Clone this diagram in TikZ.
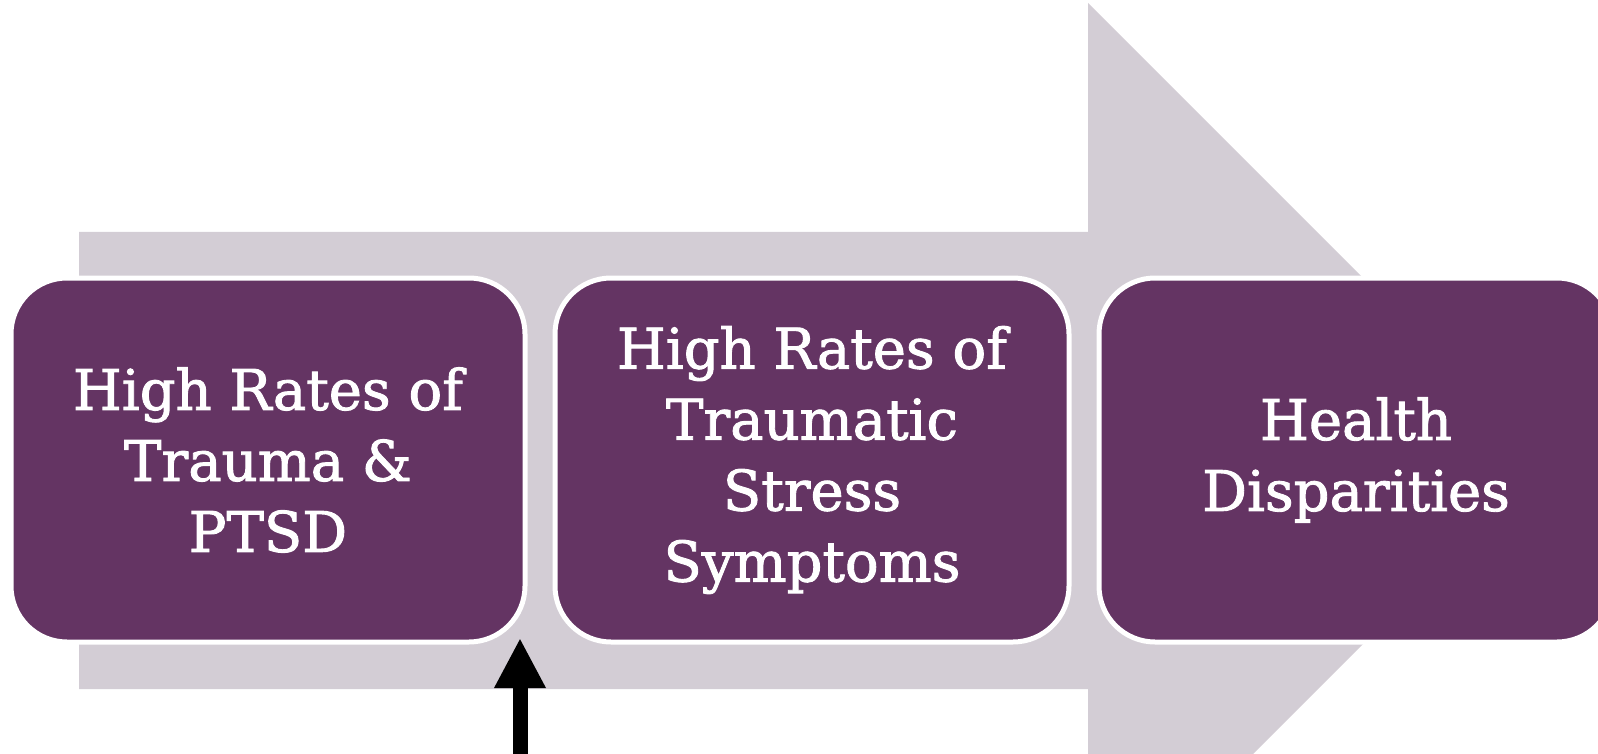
\documentclass[tikz,border=0pt]{standalone}
\usepackage{fontspec}
\setmainfont{DejaVu Serif}[RawFeature={embolden=1.6}]
\usepackage{xcolor}
\usepackage{tikz}
\usetikzlibrary{arrows.meta}

\definecolor{plum}{RGB}{100,52,99}
\definecolor{shaftgrey}{RGB}{211,205,213}

\begin{document}
\begin{tikzpicture}[x=1pt, y=-1pt,
    stage/.style={draw=white, line width=5pt, fill=plum, rounded corners=56pt,
        minimum width=514pt, minimum height=364pt, text=white, align=center,
        font=\fontsize{56}{71}\selectfont}]
    \useasboundingbox (0,0) rectangle (1598,754);
    % big grey arrow behind the boxes
    \fill[shaftgrey] (79,232) -- (1088,232) -- (1088,3) -- (1546,461)
        -- (1088,919) -- (1088,689) -- (79,689) -- cycle;
    \foreach \n/\x/\t in {trauma/268/{High Rates of\\Trauma \&\\PTSD},
        stress/812/{High Rates of\\Traumatic\\Stress\\Symptoms},
        health/1356/{Health\\Disparities}} {
        \node[stage] (\n) at (\x,460) {\t};
    }
    \coordinate (cause) at (520,638);
    \coordinate (base) at (520,754);
    \draw[-{Triangle[width=48pt, length=50pt]}, line width=15pt] (base) -- (cause);
\end{tikzpicture}
\end{document}
